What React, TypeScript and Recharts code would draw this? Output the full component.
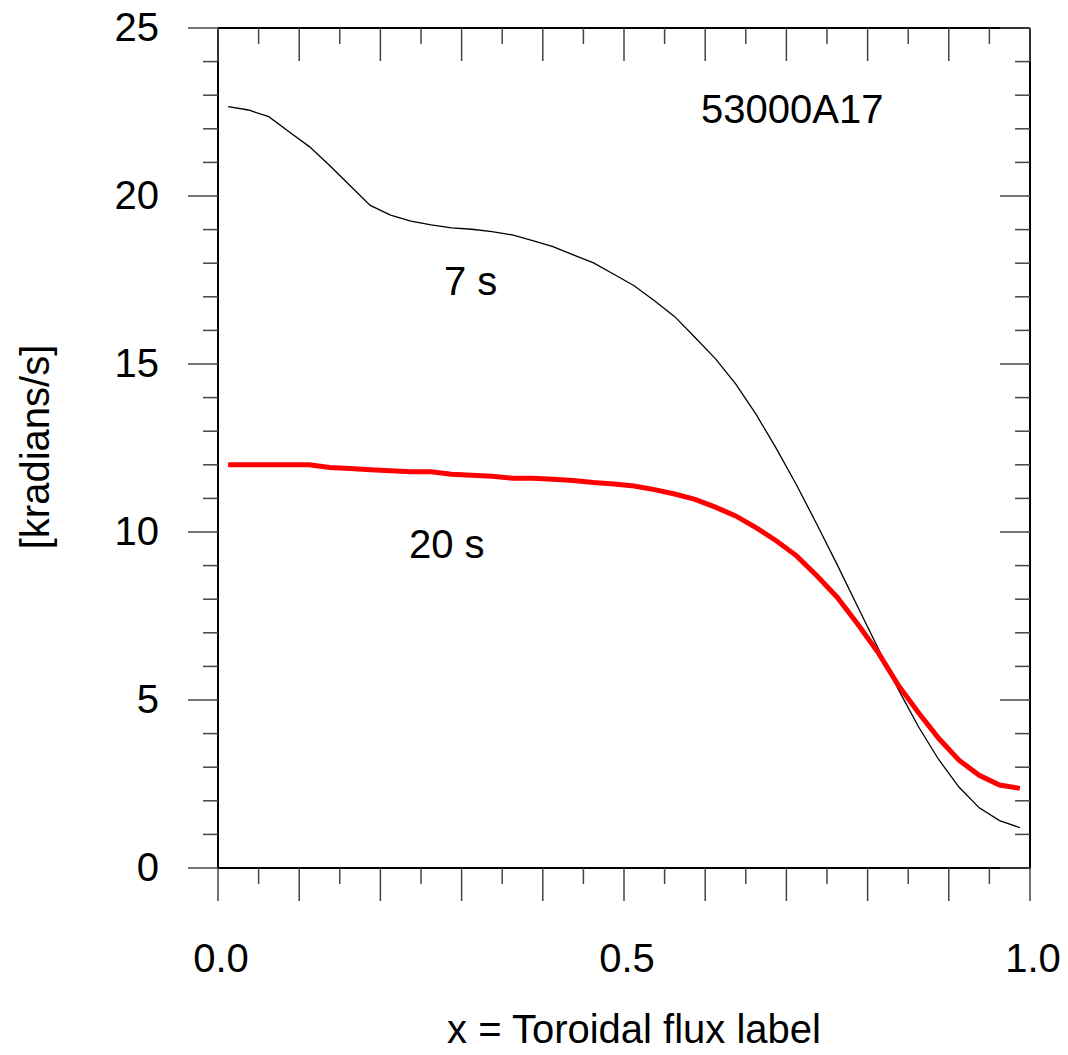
import React from 'react';
import { LineChart, Line, XAxis, YAxis, ReferenceDot } from 'recharts';

const FONT = "Arial, 'Liberation Sans', Helvetica, sans-serif";

// x = toroidal flux label (zone centres)
const xValues = [
  0.0125, 0.0375, 0.0625, 0.0875, 0.1125, 0.1375, 0.1625, 0.1875, 0.2125, 0.2375,
  0.2625, 0.2875, 0.3125, 0.3375, 0.3625, 0.3875, 0.4125, 0.4375, 0.4625, 0.4875,
  0.5125, 0.5375, 0.5625, 0.5875, 0.6125, 0.6375, 0.6625, 0.6875, 0.7125, 0.7375,
  0.7625, 0.7875, 0.8125, 0.8375, 0.8625, 0.8875, 0.9125, 0.9375, 0.9625, 0.9875,
];

// angular velocity [kradians/s] at 7 s
const omega7s = [
  22.66, 22.56, 22.36, 21.91, 21.47, 20.91, 20.31, 19.72, 19.43, 19.25,
  19.14, 19.05, 19.01, 18.94, 18.84, 18.67, 18.49, 18.25, 18.01, 17.67,
  17.33, 16.88, 16.41, 15.79, 15.16, 14.41, 13.51, 12.49, 11.4, 10.23,
  9.03, 7.79, 6.56, 5.33, 4.21, 3.23, 2.41, 1.79, 1.41, 1.2,
];

// angular velocity [kradians/s] at 20 s
const omega20s = [
  12.0, 12.0, 12.0, 12.0, 12.0, 11.92, 11.89, 11.85, 11.82, 11.79,
  11.79, 11.72, 11.69, 11.66, 11.6, 11.6, 11.57, 11.53, 11.47, 11.43,
  11.37, 11.26, 11.13, 10.97, 10.74, 10.48, 10.13, 9.74, 9.29, 8.7,
  8.06, 7.27, 6.43, 5.45, 4.63, 3.86, 3.21, 2.76, 2.47, 2.37,
];

const xTicks = [
  0, 0.05, 0.1, 0.15, 0.2, 0.25, 0.3, 0.35, 0.4, 0.45, 0.5,
  0.55, 0.6, 0.65, 0.7, 0.75, 0.8, 0.85, 0.9, 0.95, 1,
];
const xLabelTicks = [0, 0.5, 1];
const xLabelTexts = ['0.0', '0.5', '1.0'];

const yTicks = [
  0, 1, 2, 3, 4, 5, 6, 7, 8, 9, 10, 11, 12, 13, 14, 15, 16, 17, 18, 19, 20,
  21, 22, 23, 24, 25,
];
const yLabelTicks = [0, 5, 10, 15, 20, 25];
const yLabelTexts = ['0', '5', '10', '15', '20', '25'];

const annotationTexts = ['53000A17', '7 s', '20 s'];
const annotationX = [0.5948, 0.2783, 0.2352];
const annotationY = [22.17, 17.05, 9.23];

const xTitle = 'x = Toroidal flux label';
const yTitle = '[kradians/s]';

const data = xValues.map((x, i) => ({ x, s7: omega7s[i], s20: omega20s[i] }));

const TICK_COLOR = '#444';

const isMult = (v: number, step: number) =>
  Math.abs(v / step - Math.round(v / step)) < 1e-6;

const BottomTick = (props: any) => {
  const { x, y, payload } = props;
  const v = payload.value;
  const len = isMult(v, 0.1) ? 33 : 16;
  const idx = xLabelTicks.findIndex((t) => Math.abs(t - v) < 1e-6);
  return (
    <g>
      <line x1={x} x2={x} y1={y} y2={y + len} stroke={TICK_COLOR} strokeWidth={1.5} />
      {idx >= 0 && (
        <text x={x + 3} y={y + 104} textAnchor="middle" fontSize={40} fontFamily={FONT} fill="#000">
          {xLabelTexts[idx]}
        </text>
      )}
    </g>
  );
};

const TopTick = (props: any) => {
  const { x, y, payload } = props;
  const v = payload.value;
  const len = isMult(v, 0.1) ? 33 : 16;
  return <line x1={x} x2={x} y1={y} y2={y + len} stroke={TICK_COLOR} strokeWidth={1.5} />;
};

const LeftTick = (props: any) => {
  const { x, y, payload } = props;
  const v = payload.value;
  const len = isMult(v, 5) ? 30 : 15;
  const idx = yLabelTicks.findIndex((t) => Math.abs(t - v) < 1e-6);
  return (
    <g>
      <line x1={x - len} x2={x} y1={y} y2={y} stroke={TICK_COLOR} strokeWidth={1.5} />
      {idx >= 0 && (
        <text x={x - 59} y={y + 13} textAnchor="end" fontSize={40} fontFamily={FONT} fill="#000">
          {yLabelTexts[idx]}
        </text>
      )}
    </g>
  );
};

const RightTick = (props: any) => {
  const { x, y, payload } = props;
  const v = payload.value;
  const len = isMult(v, 5) ? 30 : 15;
  return <line x1={x - len} x2={x} y1={y} y2={y} stroke={TICK_COLOR} strokeWidth={1.5} />;
};

const XTitle = (props: any) => {
  const vb = props.viewBox || { x: 210, y: 860, width: 812, height: 187 };
  return (
    <text x={vb.x + 416} y={vb.y + 175} textAnchor="middle" fontSize={40} fontFamily={FONT} fill="#000">
      {xTitle}
    </text>
  );
};

const YTitle = (props: any) => {
  const vb = props.viewBox || { x: 0, y: 20, width: 210, height: 840 };
  const cx = vb.x + 41;
  const cy = vb.y + vb.height / 2 - 1;
  return (
    <text
      x={cx}
      y={cy}
      transform={`rotate(-90, ${cx}, ${cy})`}
      textAnchor="middle"
      fontSize={40}
      fontFamily={FONT}
      fill="#000"
    >
      {yTitle}
    </text>
  );
};

const makeAnnotation = (text: string) => (props: any) => {
  const vb = props.viewBox || { x: 0, y: 0 };
  return (
    <text x={vb.x} y={vb.y} textAnchor="start" fontSize={40} fontFamily={FONT} fill="#000">
      {text}
    </text>
  );
};

const axisLine = { stroke: '#000', strokeWidth: 2 };

export default function App() {
  return (
    <div style={{ width: 1060, height: 1047, background: '#fff' }}>
      <LineChart width={1060} height={1047} data={data} margin={{ top: 0, right: 0, bottom: 0, left: 0 }}>
        <XAxis
          dataKey="x"
          type="number"
          domain={[0, 1]}
          ticks={xTicks}
          interval={0}
          allowDataOverflow
          height={187}
          tickSize={0}
          tickMargin={0}
          tickLine={false}
          axisLine={axisLine}
          tick={<BottomTick />}
          label={{ content: XTitle }}
        />
        <XAxis
          xAxisId="top"
          dataKey="x"
          orientation="top"
          type="number"
          domain={[0, 1]}
          ticks={xTicks}
          interval={0}
          allowDataOverflow
          height={20}
          tickSize={0}
          tickMargin={0}
          tickLine={false}
          axisLine={axisLine}
          tick={<TopTick />}
        />
        <YAxis
          type="number"
          domain={[0, 25]}
          ticks={yTicks}
          interval={0}
          allowDataOverflow
          width={210}
          tickSize={0}
          tickMargin={0}
          tickLine={false}
          axisLine={axisLine}
          tick={<LeftTick />}
          label={{ content: YTitle }}
        />
        <YAxis
          yAxisId="right"
          orientation="right"
          type="number"
          domain={[0, 25]}
          ticks={yTicks}
          interval={0}
          allowDataOverflow
          width={38}
          tickSize={0}
          tickMargin={0}
          tickLine={false}
          axisLine={axisLine}
          tick={<RightTick />}
        />
        <Line
          type="linear"
          dataKey="s7"
          stroke="#000"
          strokeWidth={1.3}
          dot={false}
          activeDot={false}
          isAnimationActive={false}
        />
        <Line
          type="linear"
          dataKey="s20"
          stroke="#ff0000"
          strokeWidth={5}
          dot={false}
          activeDot={false}
          isAnimationActive={false}
        />
        <Line
          xAxisId="top"
          yAxisId="right"
          type="linear"
          dataKey="s20"
          stroke="none"
          strokeWidth={0}
          dot={false}
          activeDot={false}
          legendType="none"
          isAnimationActive={false}
        />
        {annotationTexts.map((t, i) => (
          <ReferenceDot
            key={t}
            x={annotationX[i]}
            y={annotationY[i]}
            r={0}
            fill="none"
            stroke="none"
            ifOverflow="visible"
            label={makeAnnotation(t)}
          />
        ))}
      </LineChart>
    </div>
  );
}
